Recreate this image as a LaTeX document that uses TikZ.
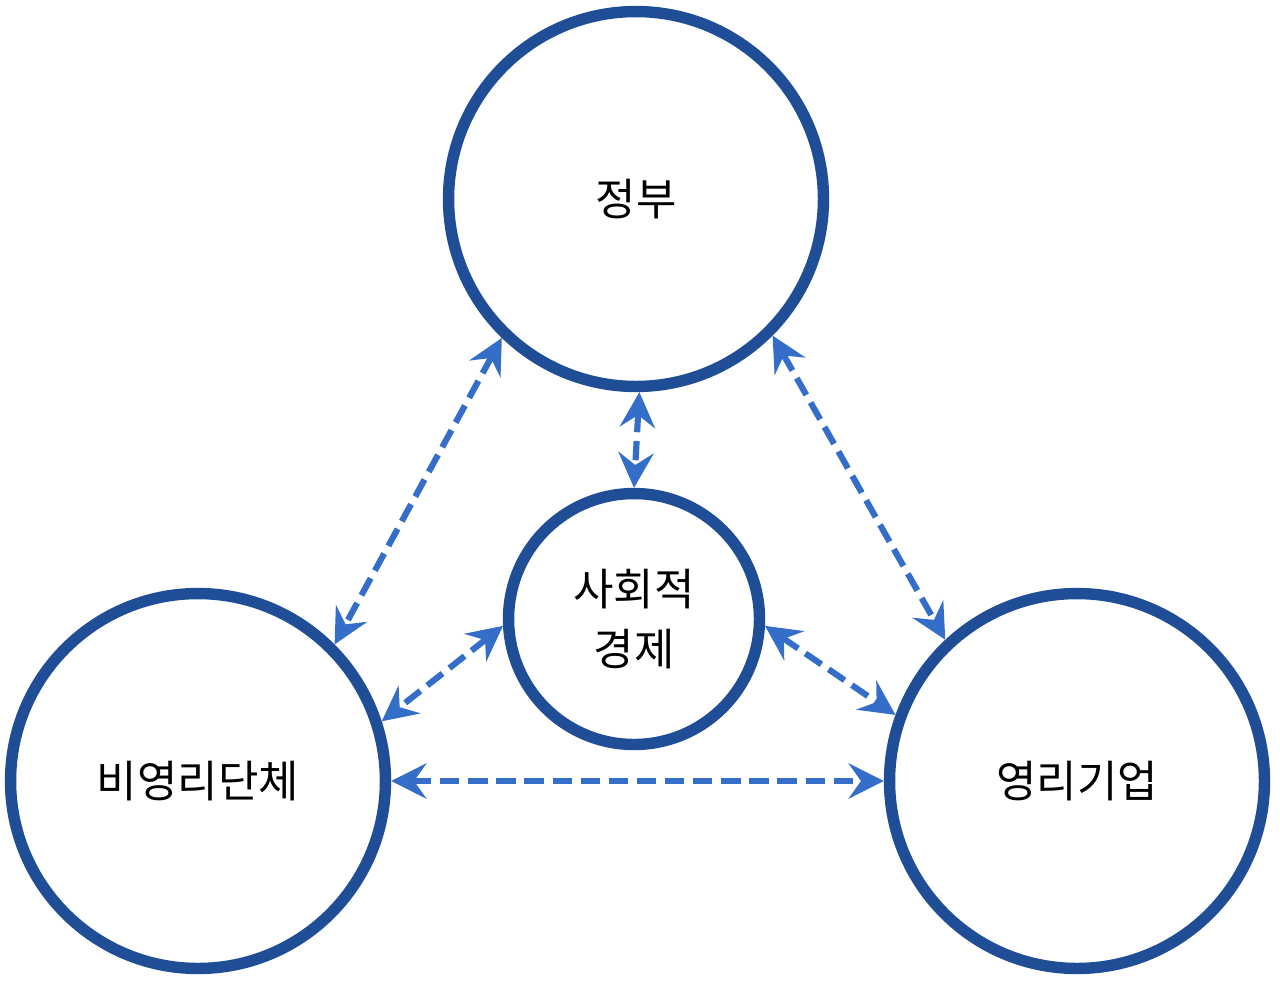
\documentclass[tikz,border=0pt]{standalone}
\usepackage{fontspec}
\setmainfont{Noto Sans CJK KR}
\usepackage{xcolor}
\usepackage{tikz}
\usetikzlibrary{arrows.meta}
\definecolor{seNavy}{RGB}{31, 78, 150}
\definecolor{seArrow}{RGB}{52, 110, 200}
\tikzset{
    base/.style={
        font=\fontsize{25}{34}\selectfont,
        align=center,
        text=black
    },
    sector/.style={
        base,
        circle,
        draw=seNavy,
        line width=6.5pt,
        fill=white,
        minimum size=7.5cm,
        inner sep=0pt
    },
    core/.style={
        sector,
        minimum size=5.02cm
    },
    link/.style={
        {Stealth[length=20pt, width=20pt, inset=7pt]}-{Stealth[length=20pt, width=20pt, inset=7pt]},
        line width=3.5pt,
        dash pattern=on 11pt off 5pt,
        color=seArrow
    }
}
\begin{document}
\begin{tikzpicture}[x=0.02cm, y=-0.02cm]
  \useasboundingbox (0,0) rectangle (1280,981);

  % Circles
  \node[sector] (gov) at (636,199) {정부};
  \node[sector] (npo) at (198,781) {비영리단체};
  \node[sector] (biz) at (1077,781) {영리기업};
  \node[core] (soc) at (634,619) {사회적\\경제};

  % Links
  \draw[link] (gov.226) -- (npo.45);
  \draw[link] (gov.315) -- (biz.133);
  \draw[link] (gov.271) -- (soc.90);
  \draw[link] (soc.183) -- (npo.18);
  \draw[link] (soc.357) -- (biz.160);
  \draw[link] (npo.0) -- (biz.180);
\end{tikzpicture}
\end{document}
